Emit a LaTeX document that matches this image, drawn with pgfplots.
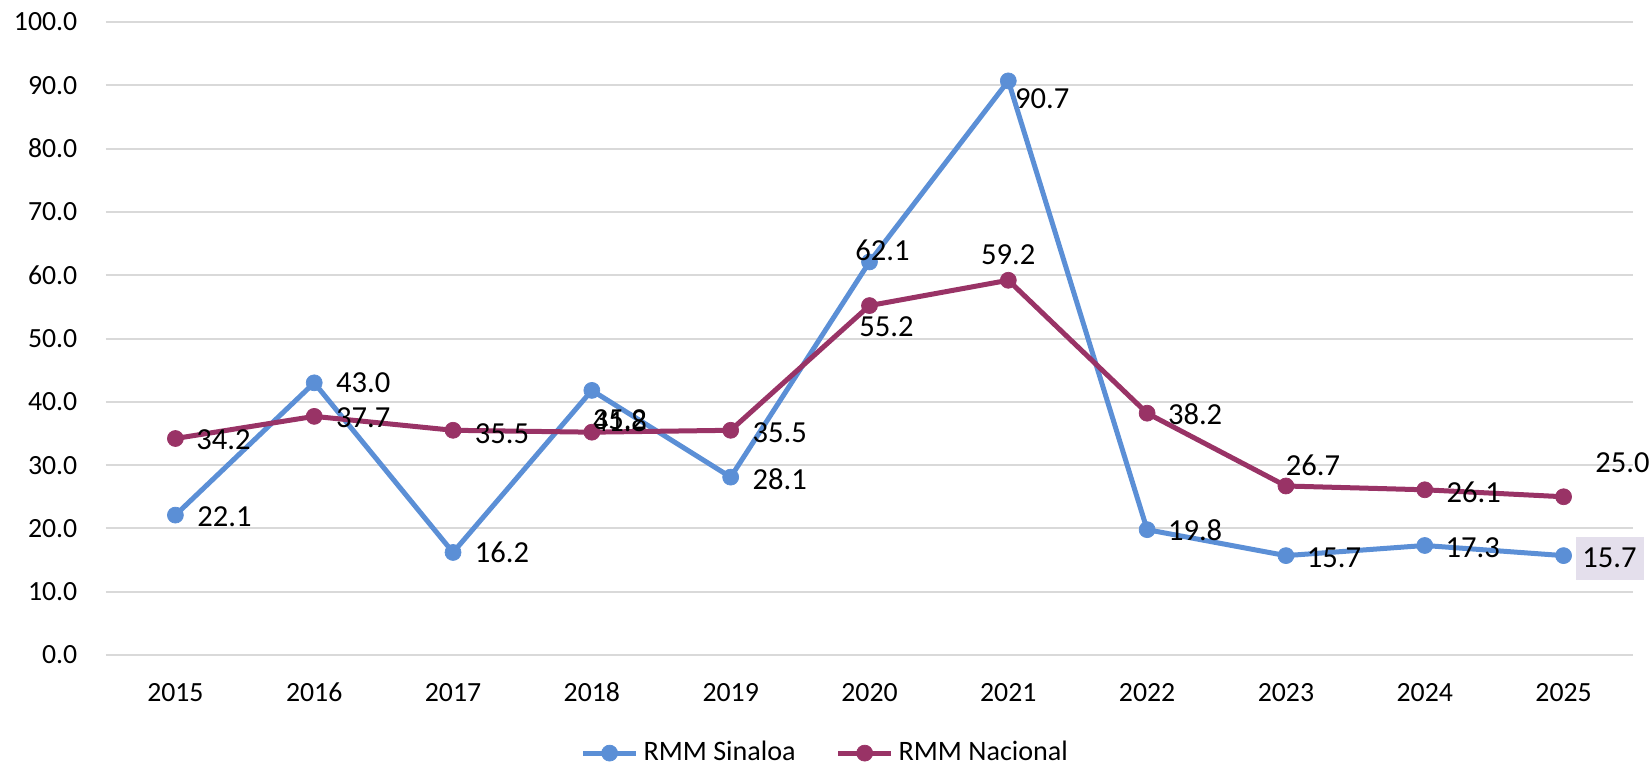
\documentclass[border=0pt]{standalone}
\usepackage{pgfplots}
\pgfplotsset{compat=1.18}
\usepackage{pgfplotstable}
\usepackage{fontspec}
\setmainfont{Carlito}

\definecolor{sinaloa}{HTML}{5B8FD6}
\definecolor{nacional}{HTML}{993366}
\definecolor{gridgray}{HTML}{D9D9D9}
\definecolor{lavender}{HTML}{E4DFEC}

% x = year index (2015 = 0), dx/dy = label offset in mm, op = label box
\pgfplotstableread{
x y dx dy op
0 22.1 4.9 -0.2 0
1 43.0 4.9 0.0 0
2 16.2 4.9 0.0 0
3 41.8 2.8 -3.1 0
4 28.1 4.9 -0.2 0
5 62.1 1.3 1.2 0
6 90.7 3.4 -1.8 0
7 19.8 4.8 -0.1 0
8 15.7 4.8 -0.2 0
9 17.3 4.8 -0.2 0
10 15.7 4.6 -0.25 1
}\tabsinaloa

\pgfplotstableread{
x y dx dy op
0 34.2 4.8 -0.1 0
1 37.7 4.9 -0.1 0
2 35.5 4.9 -0.3 0
3 35.2 2.8 1.2 0
4 35.5 4.9 -0.2 0
5 55.2 1.7 -2.1 0
6 59.2 0.0 2.6 0
7 38.2 4.8 -0.1 0
8 26.7 2.7 2.1 0
9 26.1 4.9 -0.3 0
10 25.0 5.9 3.4 0
}\tabnacional

\begin{document}
\begin{tikzpicture}
\begin{axis}[
  at={(0,0)}, anchor=south west,
  scale only axis, width=152.7mm, height=63.3mm,
  clip=false,
  xmin=-0.5, xmax=10.5, ymin=0, ymax=100,
  xtick={0,1,2,3,4,5,6,7,8,9,10},
  xticklabels={2015,2016,2017,2018,2019,2020,2021,2022,2023,2024,2025},
  ytick={0,10,...,100},
  ymajorgrids, grid style={gridgray, line width=0.2mm},
  axis line style={draw=none},
  major tick length=0pt,
  tick label style={font=\fontsize{7.9}{9}\selectfont},
  yticklabel style={anchor=east, inner sep=0pt, xshift=-2.8mm},
  xticklabel style={anchor=base, inner sep=0pt, yshift=-4.6mm},
  /pgf/number format/fixed,
  /pgf/number format/fixed zerofill,
  /pgf/number format/precision=1,
  /pgf/number format/assume math mode=true,
  nodes near coords, point meta=y,
  visualization depends on={\thisrow{dx}\as\dx},
  visualization depends on={\thisrow{dy}\as\dy},
  visualization depends on={\thisrow{op}\as\op},
  every node near coord/.append style={anchor=center, xshift=\dx mm, yshift=\dy mm,
    font=\fontsize{8.7}{10}\selectfont, text=black, fill=lavender, fill opacity=\op,
    text opacity=1, minimum width=6.8mm, minimum height=4.3mm, inner sep=0pt},
  legend style={at={(0.472,-0.155)}, anchor=center, draw=none, fill=none,
    legend columns=2, font=\fontsize{8}{9}\selectfont,
    /tikz/every even column/.append style={column sep=3.5mm},
    nodes={inner sep=0.5mm}},
  legend image code/.code={\draw[#1, mark repeat=2, mark phase=2]
    plot coordinates {(0mm,0mm) (2.65mm,0mm) (5.3mm,0mm)};},
]
\addplot[sinaloa, line width=0.5mm, mark=*, mark size=0.8mm, mark options={solid, line width=0.2pt}]
  table[x=x, y=y] {\tabsinaloa};
\addlegendentry{RMM Sinaloa}
\addplot[nacional, line width=0.5mm, mark=*, mark size=0.8mm, mark options={solid, line width=0.2pt}]
  table[x=x, y=y] {\tabnacional};
\addlegendentry{RMM Nacional}
\end{axis}
\pgfresetboundingbox
\useasboundingbox (-10.6mm,-10.9mm) rectangle (154.4mm,65.5mm);
\end{tikzpicture}
\end{document}
